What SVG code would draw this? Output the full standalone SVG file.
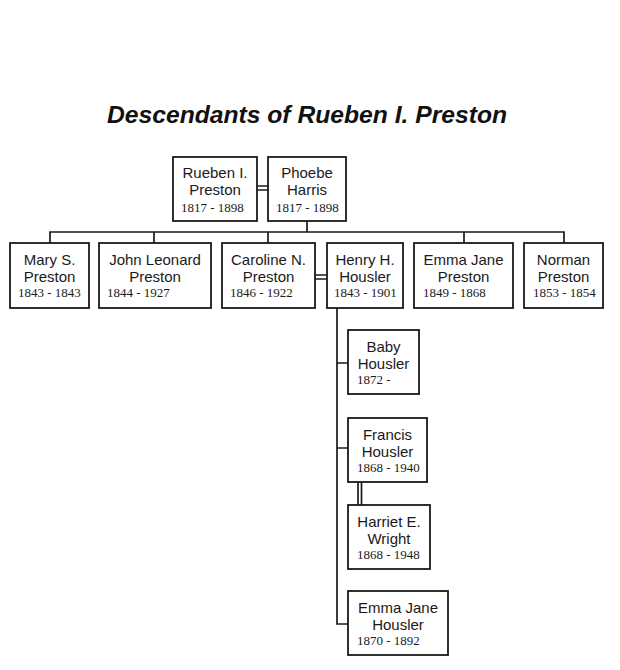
<svg xmlns="http://www.w3.org/2000/svg" width="620" height="670" viewBox="0 0 620 670">
<style>
.bg{fill:#fff}
.box{fill:#fff;stroke:#1a1a1a;stroke-width:1.8}
.ln{fill:none;stroke:#1a1a1a;stroke-width:1.7}
.nm{font-family:"Liberation Sans",Arial,sans-serif;font-size:15px;fill:#1a1a1a;text-anchor:middle}
.dt{font-family:"Liberation Serif","Times New Roman",serif;font-size:13px;fill:#1a1a1a}
.title{font-family:"Liberation Sans",Arial,sans-serif;font-size:24px;font-weight:bold;font-style:italic;fill:#111;text-anchor:middle}
</style>
<rect class="bg" x="0" y="0" width="620" height="670"/>
<text class="title" x="307" y="123" textLength="400" lengthAdjust="spacingAndGlyphs">Descendants of Rueben I. Preston</text>
<g id="connectors">
  <path class="ln" d="M257,186 H268 M257,190 H268"/>
  <path class="ln" d="M307,221 V232"/>
  <path class="ln" d="M50,243 V232 H564 V243"/>
  <path class="ln" d="M154,232 V243 M268,232 V243 M464,232 V243"/>
  <path class="ln" d="M315,275 H327 M315,279 H327"/>
  <path class="ln" d="M337,308 V624 H348"/>
  <path class="ln" d="M337,363 H348 M337,448 H348"/>
  <path class="ln" d="M358,482 V505 M361.5,482 V505"/>
</g>
<g id="rueben"><rect class="box" x="173" y="157" width="84" height="64"/><text class="nm" x="215" y="178">Rueben I.</text><text class="nm" x="215" y="195">Preston</text><text class="dt" x="181" y="212">1817 - 1898</text></g>
<g id="phoebe"><rect class="box" x="268" y="157" width="78" height="64"/><text class="nm" x="307" y="178">Phoebe</text><text class="nm" x="307" y="195">Harris</text><text class="dt" x="276" y="212">1817 - 1898</text></g>
<g id="mary"><rect class="box" x="10" y="243" width="79" height="65"/><text class="nm" x="49.5" y="265">Mary S.</text><text class="nm" x="49.5" y="282">Preston</text><text class="dt" x="18" y="297">1843 - 1843</text></g>
<g id="john"><rect class="box" x="99" y="243" width="112" height="65"/><text class="nm" x="155" y="265">John Leonard</text><text class="nm" x="155" y="282">Preston</text><text class="dt" x="107" y="297">1844 - 1927</text></g>
<g id="caroline"><rect class="box" x="222" y="243" width="93" height="65"/><text class="nm" x="268.5" y="265">Caroline N.</text><text class="nm" x="268.5" y="282">Preston</text><text class="dt" x="230" y="297">1846 - 1922</text></g>
<g id="henry"><rect class="box" x="327" y="243" width="76" height="65"/><text class="nm" x="365" y="265">Henry H.</text><text class="nm" x="365" y="282">Housler</text><text class="dt" x="334" y="297">1843 - 1901</text></g>
<g id="emma-preston"><rect class="box" x="414" y="243" width="99" height="65"/><text class="nm" x="463.5" y="265">Emma Jane</text><text class="nm" x="463.5" y="282">Preston</text><text class="dt" x="423" y="297">1849 - 1868</text></g>
<g id="norman"><rect class="box" x="524" y="243" width="79" height="65"/><text class="nm" x="563.5" y="265">Norman</text><text class="nm" x="563.5" y="282">Preston</text><text class="dt" x="533" y="297">1853 - 1854</text></g>
<g id="baby"><rect class="box" x="348" y="330" width="71" height="64"/><text class="nm" x="383.5" y="352">Baby</text><text class="nm" x="383.5" y="369">Housler</text><text class="dt" x="357" y="384">1872 -</text></g>
<g id="francis"><rect class="box" x="348" y="418" width="79" height="64"/><text class="nm" x="387.5" y="440">Francis</text><text class="nm" x="387.5" y="457">Housler</text><text class="dt" x="357" y="472">1868 - 1940</text></g>
<g id="harriet"><rect class="box" x="348" y="505" width="82" height="64"/><text class="nm" x="389" y="527">Harriet E.</text><text class="nm" x="389" y="544">Wright</text><text class="dt" x="357" y="559">1868 - 1948</text></g>
<g id="emma-housler"><rect class="box" x="348" y="591" width="100" height="64"/><text class="nm" x="398" y="613">Emma Jane</text><text class="nm" x="398" y="630">Housler</text><text class="dt" x="357" y="645">1870 - 1892</text></g>
</svg>
